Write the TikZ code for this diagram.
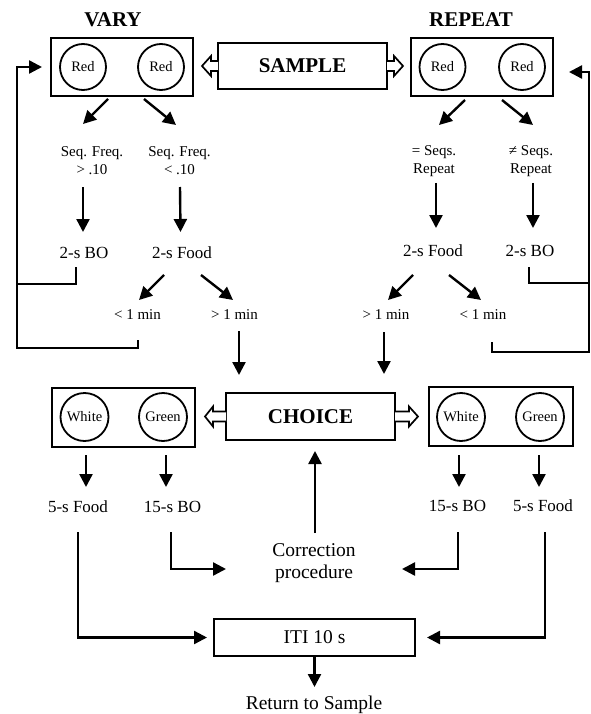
\documentclass[tikz,border=0pt]{standalone}
\usepackage{fontspec}
\setmainfont{Liberation Serif}
\usetikzlibrary{arrows.meta,calc}
\begin{document}
\begin{tikzpicture}[x=1pt,y=-1pt,
  box/.style={draw,line width=2pt,inner sep=0pt,outer sep=0pt},
  circ/.style={draw,circle,line width=1.8pt,minimum size=46pt,inner sep=0pt,font=\fontsize{14.5}{16}\selectfont},
  lbl/.style={inner sep=0pt,align=center,font=\fontsize{17}{20}\selectfont},
  small/.style={inner sep=0pt,align=center,font=\fontsize{15}{18}\selectfont},
  big/.style={inner sep=0pt,align=center,font=\fontsize{19.5}{22}\selectfont},
  ttl/.style={inner sep=0pt,font=\bfseries\fontsize{21}{24}\selectfont},
  arr/.style={line width=2.4pt,-{Triangle[length=13pt,width=13pt]}},
  ln/.style={line width=2.4pt},
  hollow/.style={draw,fill=white,line width=1.7pt,line join=miter}]
\fill[white] (0,0) rectangle (590,714);
\useasboundingbox (0,0) rectangle (590,714);

% ---------- top row ----------
\node[ttl] (varyT) at (113,20) {VARY};
\node[ttl] (repT) at (471,20) {REPEAT};
\node[box,minimum width=142pt,minimum height=58pt] (varybox) at (122,67) {};
\node[circ] (vr1) at (83,67) {Red};
\node[circ] (vr2) at (161,67) {Red};
\node[box,minimum width=169pt,minimum height=46pt,font=\bfseries\fontsize{21}{24}\selectfont] (sample) at (302.5,66) {SAMPLE};
\node[box,minimum width=142pt,minimum height=58pt] (repbox) at (482,67) {};
\node[circ] (rr1) at (442.5,67) {Red};
\node[circ] (rr2) at (522,67) {Red};

% hollow arrows from SAMPLE
\draw[hollow] ($(sample.west)+(0,-5)$) -- ++(-7,0) -- ++(0,-5) -- ++(-9,10) -- ++(9,10) -- ++(0,-5) -- ++(7,0);
\draw[hollow] ($(sample.east)+(0,-5)$) -- ++(7,0) -- ++(0,-5) -- ++(9,10) -- ++(-9,10) -- ++(0,-5) -- ++(-7,0);

% ---------- VARY branch ----------
\node[small] (sf1) at (92,161) {Seq. Freq.\\> .10};
\node[small] (sf2) at (179.5,161) {Seq. Freq.\\< .10};
\node[lbl] (bo1) at (84,253) {2-s BO};
\node[lbl] (fd1) at (182,253) {2-s Food};
\node[small] (lt1) at (137.5,315) {< 1 min};
\node[small] (gt1) at (234.5,315) {> 1 min};

\draw[arr] ($(varybox.south)+(-14,3)$) -- ($(sf1)+(-9,-37)$);
\draw[arr] ($(varybox.south)+(22,3)$) -- ($(sf2)+(-3.5,-36)$);
\draw[arr] ($(sf1)+(-9,26)$) -- ($(bo1)+(-1,-21)$);
\draw[arr] ($(sf2)+(0.5,26)$) -- ($(fd1)+(-1.5,-21)$);
\draw[arr] ($(fd1)+(-18,22)$) -- ($(lt1)+(1.5,-15)$);
\draw[arr] ($(fd1)+(19,22)$) -- ($(gt1)+(-1.5,-15)$);

% ---------- REPEAT branch ----------
\node[small] (rs1) at (434,161) {= Seqs.\\Repeat};
\node[small] (rs2) at (531,161) {≠ Seqs.\\Repeat};
\node[lbl] (fd2) at (433,251) {2-s Food};
\node[lbl] (bo2) at (530,251) {2-s BO};
\node[small] (gt2) at (386,315) {> 1 min};
\node[small] (rt2) at (483,315) {< 1 min};

\draw[arr] ($(repbox.south)+(-17,4)$) -- ($(rs1)+(5,-36)$);
\draw[arr] ($(repbox.south)+(20,4)$) -- ($(rs2)+(2,-36)$);
\draw[arr] ($(rs1)+(2,22)$) -- ($(fd2)+(3,-23)$);
\draw[arr] ($(rs2)+(2,22)$) -- ($(bo2)+(3,-23)$);
\draw[arr] ($(fd2)+(-20,24)$) -- ($(gt2)+(2,-15)$);
\draw[arr] ($(fd2)+(16,24)$) -- ($(rt2)+(-2,-15)$);

% ---------- feedback loops ----------
\coordinate (fbL) at (17,348);
\coordinate (fbL2) at (17,284);
\coordinate (fbR) at (589,352);
\coordinate (fbR2) at (589,283);
\draw[ln] ($(bo1)+(-8,14)$) |- (fbL2);
\draw[arr,shorten >=9pt] ($(lt1)+(0.5,25)$) |- (fbL) |- (varybox.west);
\draw[ln] ($(bo2)+(-1,16)$) |- (fbR2);
\draw[arr,shorten >=16pt] ($(rt2)+(9,27)$) |- (fbR) |- ([yshift=-5pt]repbox.east);

% ---------- choice row ----------
\node[box,minimum width=143pt,minimum height=59pt] (lbox) at (123.5,417.5) {};
\node[circ,minimum size=48pt] (lw) at (84.5,417) {White};
\node[circ,minimum size=48pt] (lg) at (163,417) {Green};
\node[box,minimum width=169pt,minimum height=47pt,font=\bfseries\fontsize{21}{24}\selectfont] (choice) at (310.5,416.5) {CHOICE};
\node[box,minimum width=144pt,minimum height=59pt] (rbox) at (501,416.5) {};
\node[circ,minimum size=48pt] (rw) at (461,417) {White};
\node[circ,minimum size=48pt] (rg) at (540,417) {Green};

\draw[hollow] ($(choice.west)+(0,-5)$) -- ++(-13,0) -- ++(0,-5) -- ++(-8,10) -- ++(8,10) -- ++(0,-5) -- ++(13,0);
\draw[hollow] ($(choice.east)+(0,-5)$) -- ++(14,0) -- ++(0,-5) -- ++(9,10) -- ++(-9,10) -- ++(0,-5) -- ++(-14,0);

\draw[arr] ($(gt1)+(4.5,16)$) -- ($(choice.north west)+(13,-18)$);
\draw[arr] ($(gt2)+(-2,17)$) -- ($(choice.north east)+(-11,-19)$);

% ---------- outcomes ----------
\node[lbl] (f5L) at (78,507) {5-s Food};
\node[lbl] (b15L) at (172.5,507) {15-s BO};
\node[lbl] (b15R) at (457.5,506) {15-s BO};
\node[lbl] (f5R) at (543,506) {5-s Food};

\draw[arr] ($(lbox.south west)+(34,8)$) -- ($(f5L)+(8,-20)$);
\draw[arr] ($(lbox.south west)+(114,8)$) -- ($(b15L)+(-6.5,-20)$);
\draw[arr] ($(rbox.south west)+(30,9)$) -- ($(b15R)+(1.5,-19)$);
\draw[arr] ($(rbox.south west)+(110,9)$) -- ($(f5R)+(-4,-19)$);

% ---------- correction & ITI ----------
\node[big] (corr) at (314,563) {Correction\\procedure};
\draw[arr] ($(corr)+(1,-30)$) -- ($(choice.south)+(4.5,11)$);
\draw[arr] ($(b15L)+(-1.5,25)$) |- ($(corr)+(-88,6)$);
\draw[arr] ($(b15R)+(0.5,26)$) |- ($(corr)+(88,6)$);

\node[box,minimum width=201pt,minimum height=37pt,font=\fontsize{19.5}{22}\selectfont] (iti) at (314.5,637.5) {ITI 10 s};
\draw[arr,shorten >=7pt] ($(f5L)+(0,25)$) |- (iti.west);
\draw[arr,shorten >=12pt] ($(f5R)+(2,26)$) |- (iti.east);

\node[big] (ret) at (314,705) {Return to Sample};
\draw[arr] (iti.south) -- ($(ret)+(0.5,-18)$);
\end{tikzpicture}
\end{document}
